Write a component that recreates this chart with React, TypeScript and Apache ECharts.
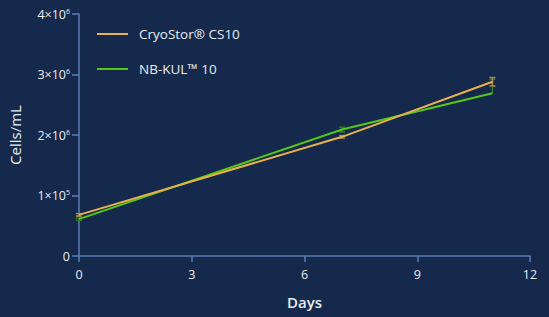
import React, { useEffect, useRef } from "react";
import * as echarts from "echarts";

const days = [0, 7, 11];
const cryoValues = [0.68e6, 1.97e6, 2.88e6];
const cryoErrors = [0.02e6, 0.02e6, 0.07e6];
const nbValues = [0.61e6, 2.09e6, 2.69e6];
const nbErrors = [0.02e6, 0.04e6, 0.23e6];
const yTickLabels: Record<number, [string, string]> = {
  1000000: ["1×10", "5"],
  2000000: ["2×10", "6"],
  3000000: ["3×10", "6"],
  4000000: ["4×10", "6"],
};
const seriesNames = ["CryoStor® CS10", "NB-KUL™ 10"];

const BG = "#14294b";
const AXIS = "#5b7db5";
const ORANGE = "#e9b04c";
const GREEN = "#55c814";
const TEXT = "#e8edf5";
const FONT = "'Open Sans', Lato, sans-serif";

function errorSeries(name: string, vals: number[], errs: number[], color: string, upOnly: boolean[]) {
  return {
    type: "custom",
    name: name + " err",
    z: 1,
    silent: true,
    data: days.map((d, i) => [d, vals[i], errs[i], upOnly[i] ? 1 : 0]),
    renderItem: (params: any, api: any) => {
      const x = api.value(0);
      const v = api.value(1);
      const e = api.value(2);
      const up = api.value(3);
      const top = api.coord([x, v + e]);
      const bot = api.coord([x, up ? v : v - e]);
      const cap = 3;
      const style = { stroke: color, lineWidth: 1.5 };
      const children: any[] = [
        { type: "line", shape: { x1: top[0], y1: top[1], x2: bot[0], y2: bot[1] }, style },
        { type: "line", shape: { x1: top[0] - cap, y1: top[1], x2: top[0] + cap, y2: top[1] }, style },
      ];
      if (!up) {
        children.push({ type: "line", shape: { x1: bot[0] - cap, y1: bot[1], x2: bot[0] + cap, y2: bot[1] }, style });
      }
      return { type: "group", children };
    },
  };
}

export default function App() {
  const ref = useRef<HTMLDivElement>(null);
  useEffect(() => {
    const chart = echarts.init(ref.current!, null, { renderer: "svg" });
    chart.setOption({
      animation: false,
      backgroundColor: BG,
      textStyle: { fontFamily: FONT },
      grid: { left: 79, right: 19, top: 14, bottom: 61, containLabel: false, outerBoundsMode: "none" },
      legend: {
        orient: "vertical",
        left: 92,
        top: 22,
        itemWidth: 31,
        itemHeight: 2,
        itemGap: 21,
        icon: "rect",
        data: seriesNames,
        textStyle: { color: TEXT, fontSize: 13.5, fontFamily: FONT, padding: [0, 0, 0, 6] },
      },
      xAxis: {
        type: "value",
        min: 0,
        max: 12,
        interval: 3,
        name: "Days",
        nameLocation: "middle",
        nameGap: 38,
        nameTextStyle: { color: TEXT, fontSize: 15, fontWeight: 600, fontFamily: FONT },
        axisLine: { show: true, lineStyle: { color: AXIS, width: 1.5 } },
        axisTick: { show: true, length: 6, lineStyle: { color: AXIS, width: 1.5 } },
        axisLabel: { color: TEXT, fontSize: 12.5, margin: 12 },
        splitLine: { show: false },
      },
      yAxis: {
        type: "value",
        min: 0,
        max: 4e6,
        interval: 1e6,
        name: "Cells/mL",
        nameLocation: "middle",
        nameGap: 57,
        nameTextStyle: { color: TEXT, fontSize: 15, fontWeight: 500, fontFamily: FONT },
        axisLine: { show: true, lineStyle: { color: AXIS, width: 1.5 } },
        axisTick: { show: true, length: 7, lineStyle: { color: AXIS, width: 1.5 } },
        axisLabel: {
          color: TEXT,
          fontSize: 12.5,
          margin: 9,
          formatter: (v: number) => {
            if (v === 0) return "{a|0}";
            const t = yTickLabels[v];
            return t ? `{a|${t[0]}}{s|${t[1]}}` : "";
          },
          rich: {
            a: { color: TEXT, fontSize: 12.5, fontFamily: FONT },
            s: { color: TEXT, fontSize: 7, fontFamily: FONT, verticalAlign: "top", padding: [0, 0, 6, 0] },
          },
        },
        splitLine: { show: false },
      },
      series: [
        errorSeries(seriesNames[1], nbValues, nbErrors, "#2f7a1a", [false, false, true]),
        errorSeries(seriesNames[0], cryoValues, cryoErrors, "#b08a45", [false, false, false]),
        {
          type: "line",
          name: seriesNames[1],
          data: days.map((d, i) => [d, nbValues[i]]),
          showSymbol: false,
          symbol: "none",
          lineStyle: { color: GREEN, width: 2 },
          itemStyle: { color: GREEN },
          z: 3,
        },
        {
          type: "line",
          name: seriesNames[0],
          data: days.map((d, i) => [d, cryoValues[i]]),
          showSymbol: false,
          symbol: "none",
          lineStyle: { color: ORANGE, width: 2 },
          itemStyle: { color: ORANGE },
          z: 4,
        },
      ],
    });
    return () => chart.dispose();
  }, []);
  return <div ref={ref} style={{ width: 549, height: 317, position: "absolute", left: 0, top: 0 }} />;
}
